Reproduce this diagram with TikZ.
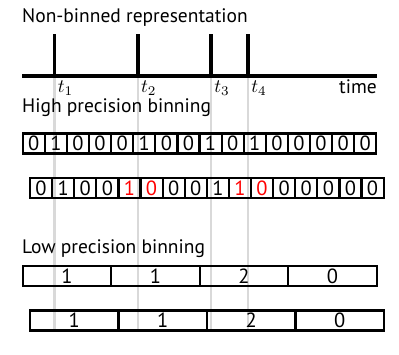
\documentclass[tikz,border=0pt]{standalone}
\usepackage{amsmath}
\usepackage{fontspec}
\setmainfont{PT Sans}
\usepackage{tikz}
\usepackage{xcolor}

\tikzset{
  bin/.style={draw, line width=2.2pt, minimum width=22.1pt, minimum height=20pt,
    inner sep=0pt, font=\fontsize{20.5}{20.5}\selectfont},
  wide bin/.style={bin, minimum width=88.5pt},
  title/.style={anchor=base west, inner sep=0pt, font=\fontsize{19.5}{22}\selectfont},
  tick label/.style={anchor=base west, inner sep=0pt, scale=1.9}
}

\begin{document}
\begin{tikzpicture}[x=1pt, y=-1pt]
  \useasboundingbox (0,0) rectangle (399,354);
  % guide lines
  \foreach \x in {54.5, 137.7, 211, 248}
    \draw[gray!30, line width=2.2pt] (\x,78) -- (\x,331);
  % axis
  \draw[line width=4.5pt] (22,76) -- (377,76);
  \node[title, anchor=base east] (time) at (377,93.3) {time};
  % spikes
  \foreach \x [count=\i] in {54.5, 137.7, 211, 248} {
    \draw[line width=3.8pt] (\x,34) -- (\x,76);
    \node[tick label] (t\i) at (\x+3,92.7) {$t_\i$};
  }
  % titles
  \node[title] (nonbin) at (22,22.3) {Non-binned representation};
  \node[title] (high) at (22,112) {High precision binning};
  \node[title] (low) at (22,253.3) {Low precision binning};
  % high precision rows
  \foreach \b [count=\i from 0] in {0,1,0,0,0,1,0,0,1,0,1,0,0,0,0,0}
    \node[bin] (h\i) at (22.7+22.1*\i+11.05,143.5) {\b};
  \foreach \b/\c [count=\i from 0] in {0/black,1/black,0/black,0/black,1/red,0/red,0/black,0/black,
      1/black,1/red,0/red,0/black,0/black,0/black,0/black,0/black}
    \node[bin, text=\c] (s\i) at (30+22.1*\i+11.05,188) {\b};
  % low precision rows
  \foreach \b [count=\i from 0] in {1,1,2,0}
    \node[wide bin] (l\i) at (22.7+88.5*\i+44.25,276) {\b};
  \foreach \b [count=\i from 0] in {1,1,2,0}
    \node[wide bin] (m\i) at (30+88.5*\i+44.25,320.5) {\b};
\end{tikzpicture}
\end{document}
